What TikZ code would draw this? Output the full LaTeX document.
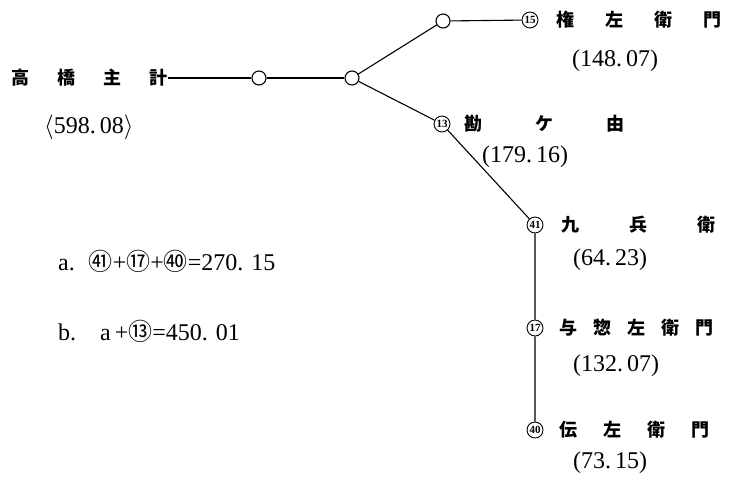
\documentclass[tikz,border=0pt]{standalone}
\usepackage{fontspec}
\setmainfont{Liberation Serif}
\newfontfamily\jp{Noto Sans CJK JP}
\usetikzlibrary{positioning}

\begin{document}
\begin{tikzpicture}[x=1pt, y=-1pt,
    person/.style={anchor=west, inner sep=1pt, font=\jp\bfseries\fontsize{18}{18}\selectfont},
    val/.style={anchor=west, inner sep=0pt, font=\fontsize{24}{24}\selectfont},
    junc/.style={circle, draw, line width=1.1pt, minimum size=14pt, inner sep=0pt},
    cnum/.style={circle, draw, line width=0.9pt, minimum size=16pt, inner sep=0pt,
                 font=\bfseries\fontsize{11}{11}\selectfont},
    formula/.style={anchor=west, inner sep=0pt, font=\fontsize{24}{24}\selectfont},
    link/.style={line width=1.1pt}
  ]
    \useasboundingbox (0,0) rectangle (730,483);

    % the root and its joints
    \node[person] (taka)  at (10,78)  {高\hspace{28pt}橋\hspace{28pt}主\hspace{28pt}計};
    \node[val]  (takav) at (44,127) {$\langle$598.\hspace{4pt}08$\rangle$};
    \node[junc] (j1) at (259,78) {};
    \node[junc] (j2) at (352,78) {};
    \node[junc] (j3) at (443,21) {};

    % branches
    \node[cnum] (n15) at (530,20) {15};
    \node[person] (gon)  at (555,20) {権\hspace{31pt}左\hspace{31pt}衛\hspace{31pt}門};
    \node[val]  (gonv) at (572,61) {(148.\hspace{4pt}07)};

    \node[cnum] (n13) at (442,124) {13};
    \node[person] (kan)  at (463,124) {勘\hspace{53pt}ケ\hspace{53pt}由};
    \node[val]  (kanv) at (482,157) {(179.\hspace{4pt}16)};

    \node[cnum] (n41) at (535,225) {41};
    \node[person] (kyu)  at (560,225) {九\hspace{50pt}兵\hspace{50pt}衛};
    \node[val]  (kyuv) at (573,260) {(64.\hspace{4pt}23)};

    \node[cnum] (n17) at (535,328) {17};
    \node[person] (yoso) at (558,328) {与\hspace{16pt}惣\hspace{16pt}左\hspace{16pt}衛\hspace{16pt}門};
    \node[val]  (yosov) at (573,366) {(132.\hspace{4pt}07)};

    \node[cnum] (n40) at (535,430) {40};
    \node[person] (den)  at (558,430) {伝\hspace{26pt}左\hspace{26pt}衛\hspace{26pt}門};
    \node[val]  (denv) at (573,463) {(73.\hspace{4pt}15)};

    \draw[link, line width=1.4pt] (taka.east) -- (j1) -- (j2);
    \draw[link] (j2) -- (j3) -- (n15);
    \draw[link] (j2) -- (n13) -- (n41) -- (n17) -- (n40);

    % sums
    \node[formula] (suma) at (58,261)
      {a.\hspace{14pt}{\jp ㊶}+{\jp ⑰}+{\jp ㊵}=270.\hspace{8pt}15};
    \node[formula] (sumb) at (58,331)
      {b.\hspace{24pt}a\,+{\jp ⑬}=450.\hspace{8pt}01};
  \end{tikzpicture}
\end{document}
